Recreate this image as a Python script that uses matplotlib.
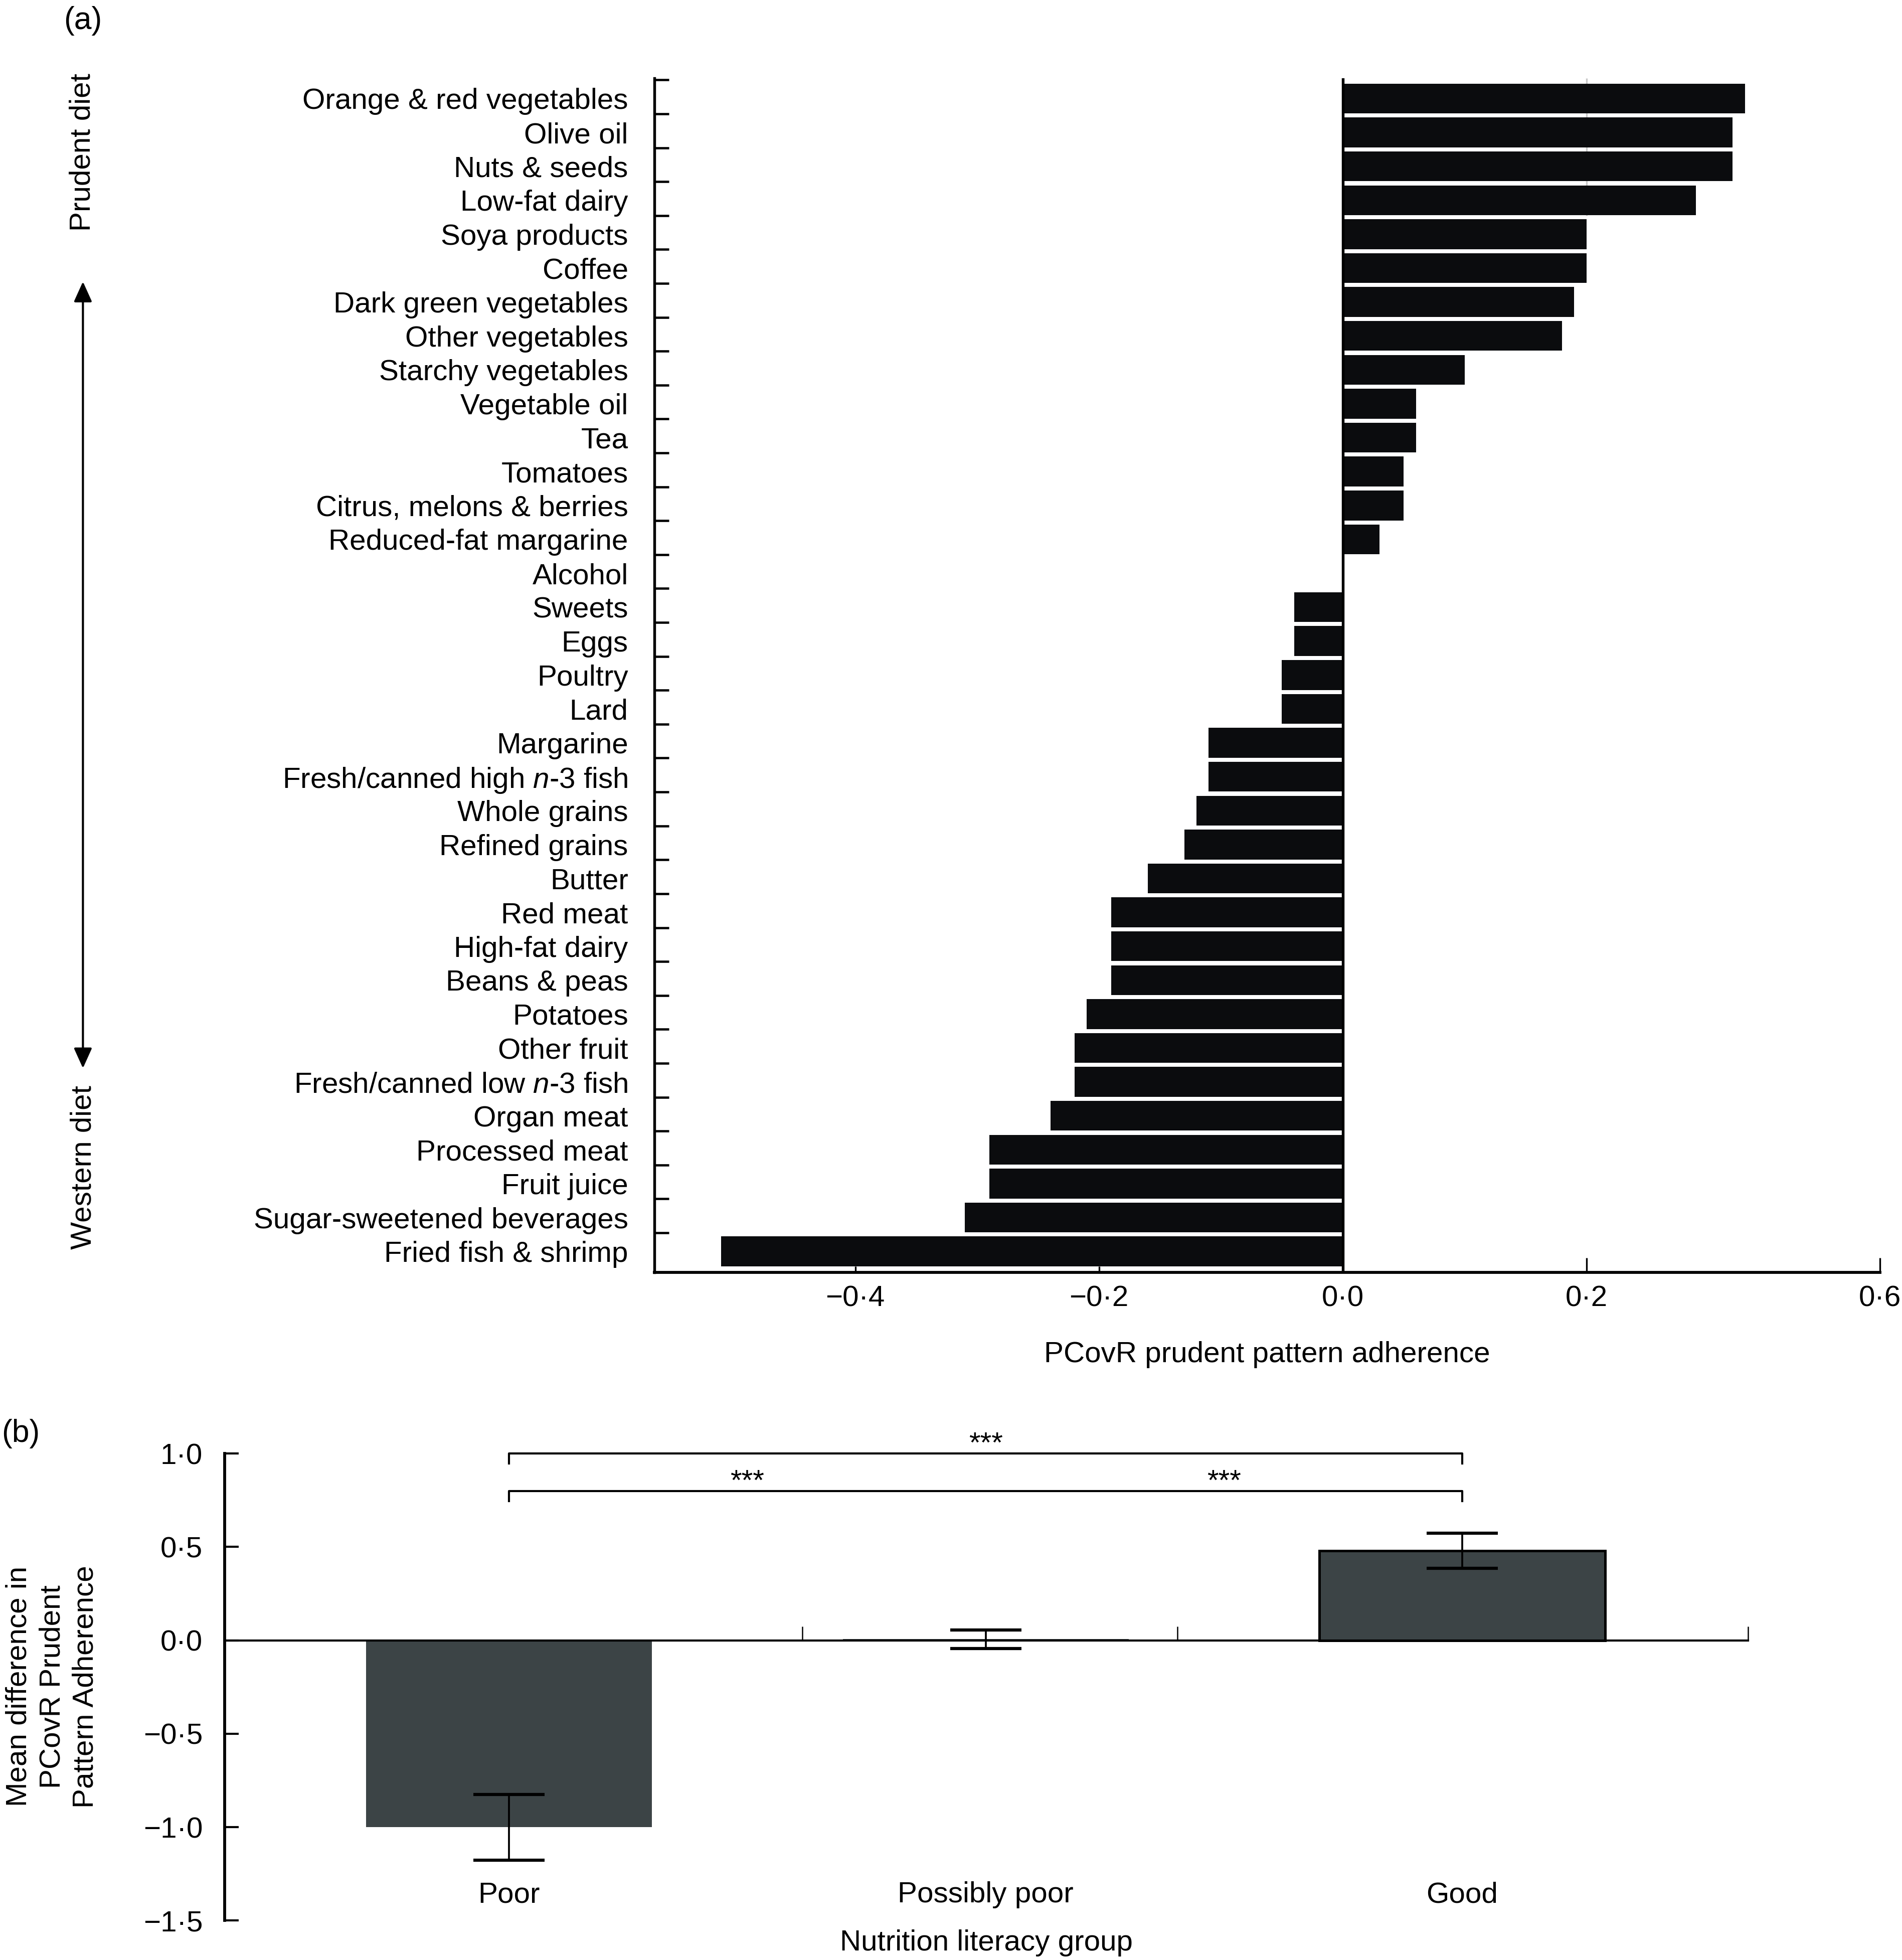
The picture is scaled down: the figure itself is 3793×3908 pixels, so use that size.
import matplotlib
matplotlib.use("Agg")
import numpy as np
import matplotlib.pyplot as plt
from matplotlib.patches import FancyArrowPatch

plt.rcParams['font.family'] = ['Liberation Sans', 'DejaVu Sans']
plt.rcParams['mathtext.fontset'] = 'custom'
plt.rcParams['mathtext.rm'] = 'Liberation Sans'
plt.rcParams['mathtext.it'] = 'Liberation Sans:italic'
plt.rcParams['font.size'] = 14

# panel (a): PCovR loadings per food group
foods = ['Orange & red vegetables', 'Olive oil', 'Nuts & seeds', 'Low-fat dairy',
         'Soya products', 'Coffee', 'Dark green vegetables', 'Other vegetables',
         'Starchy vegetables', 'Vegetable oil', 'Tea', 'Tomatoes',
         'Citrus, melons & berries', 'Reduced-fat margarine', 'Alcohol', 'Sweets',
         'Eggs', 'Poultry', 'Lard', 'Margarine',
         r'Fresh/canned high $\mathit{n}$-3 fish', 'Whole grains', 'Refined grains',
         'Butter', 'Red meat', 'High-fat dairy', 'Beans & peas', 'Potatoes',
         'Other fruit', r'Fresh/canned low $\mathit{n}$-3 fish', 'Organ meat',
         'Processed meat', 'Fruit juice', 'Sugar-sweetened beverages',
         'Fried fish & shrimp']
loadings = [0.33, 0.32, 0.32, 0.29, 0.20, 0.20, 0.19, 0.18, 0.10, 0.06, 0.06, 0.05,
            0.05, 0.03, 0.0, -0.04, -0.04, -0.05, -0.05, -0.11, -0.11, -0.12, -0.13,
            -0.16, -0.19, -0.19, -0.19, -0.21, -0.22, -0.22, -0.24, -0.29, -0.29,
            -0.31, -0.51]
xtick_vals = [-0.4, -0.2, 0.0, 0.2]
xtick_labels = ['\u22120\u00b74', '\u22120\u00b72', '0\u00b70', '0\u00b72', '0\u00b76']

# panel (b): mean difference by nutrition literacy group
groups = ['Poor', 'Possibly poor', 'Good']
means = [-1.0, 0.006, 0.48]
errs = [0.176, 0.05, 0.094]
ytick_vals_b = [1.0, 0.5, 0.0, -0.5, -1.0, -1.5]
ytick_labels_b = ['1\u00b70', '0\u00b75', '0\u00b70', '\u22120\u00b75', '\u22121\u00b70', '\u22121\u00b75']
sig_pairs = [(0, 2, 1.0), (0, 1, 0.8), (1, 2, 0.8)]  # (from, to, bracket level)

fig = plt.figure(figsize=(3793 / 300, 3908 / 300), dpi=300)

# ---------------- panel (a)
ax1 = fig.add_axes([0.3440, 0.3508, 0.9885 - 0.3440, 0.9601 - 0.3508])
y = np.arange(len(foods))
ax1.barh(y, loadings, height=0.88, color='#0b0c0e', zorder=2)
x_right = 0.441
ax1.set_xlim(-0.565, x_right)
ax1.set_ylim(len(foods) - 0.38, -0.6)
ax1.axvline(0, color='black', lw=1.3, zorder=3)
ax1.vlines(0.2, -0.6, 3.45, color='#c8c8c8', lw=0.8, zorder=1)

ax1.set_yticks(y, foods)
ax1.set_yticks(y - 0.55, minor=True)
ax1.tick_params(axis='y', which='major', length=0, pad=12.5, labelsize=14)
ax1.tick_params(axis='y', which='minor', direction='in', length=7, width=1.1)
ax1.set_xticks(xtick_vals + [x_right], xtick_labels)
ax1.tick_params(axis='x', direction='in', length=3, width=0.8, pad=6, labelsize=14)
for t in ax1.xaxis.get_major_ticks()[3:]:
    t.tick1line.set_markersize(7)
for s in ['top', 'right']:
    ax1.spines[s].set_visible(False)
ax1.spines['left'].set_linewidth(1.3)
ax1.spines['bottom'].set_linewidth(1.4)
ax1.set_xlabel('PCovR prudent pattern adherence', fontsize=14, labelpad=14)

fig.text(0.0435, 0.9895, '(a)', ha='center', va='center', fontsize=15)
fig.text(0.0435, 0.9223, 'Prudent diet', rotation=90, ha='center', va='center', fontsize=14)
fig.text(0.0439, 0.4045, 'Western diet', rotation=90, ha='center', va='center', fontsize=14)
arrow = FancyArrowPatch((0.0436, 0.4550), (0.0436, 0.8563), transform=fig.transFigure,
                        arrowstyle='<|-|>,head_length=0.82,head_width=0.37',
                        mutation_scale=10, lw=1.0, color='black',
                        shrinkA=0, shrinkB=0)
fig.add_artist(arrow)

# ---------------- panel (b)
ax2 = fig.add_axes([0.1181, 0.0201, 0.9191 - 0.1181, 0.2584 - 0.0201])
xb = np.arange(len(groups))
ax2.bar(xb, means, width=0.6, color='#3c4446', edgecolor='black',
        linewidth=[0, 0, 1.2], zorder=2)
ax2.errorbar(xb, means, yerr=errs, fmt='none', ecolor='black', elinewidth=0.9,
             capsize=17, capthick=1.5, zorder=3)
ax2.set_xlim(-0.597, 2.6)
ax2.set_ylim(-1.5, 1.0)
ax2.set_yticks(ytick_vals_b, ytick_labels_b)
ax2.tick_params(axis='y', direction='in', length=6.8, width=1.0, pad=10.5, labelsize=14)
ax2.set_xticks([0.615, 1.402, 2.6], [])
ax2.tick_params(axis='x', direction='in', length=6.8, width=0.6)
for s in ['top', 'right']:
    ax2.spines[s].set_visible(False)
ax2.spines['bottom'].set_position(('data', 0))
ax2.spines['bottom'].set_linewidth(1.0)
ax2.spines['bottom'].set_zorder(4)
ax2.spines['left'].set_linewidth(1.4)

for i, g in enumerate(groups):
    ax2.text(xb[i], -1.403, g, ha='center', va='baseline', fontsize=14)
fig.text(0.5185, 0.0049, 'Nutrition literacy group', ha='center', va='baseline', fontsize=14)
fig.text(0.0275, 0.1395, 'Mean difference in\nPCovR Prudent\nPattern Adherence',
         rotation=90, ha='center', va='center', multialignment='center',
         linespacing=1.3, fontsize=14)

# significance brackets
drop = 0.054
for level in sorted(set(p[2] for p in sig_pairs)):
    ax2.plot([xb[0], xb[0], xb[2], xb[2]], [level - drop, level, level, level - drop],
             color='black', lw=1.0, clip_on=False)
for a, b, level in sig_pairs:
    ax2.text((xb[a] + xb[b]) / 2, level + 0.006, '***', ha='center', va='baseline',
             fontsize=14, clip_on=False)

fig.text(0.011, 0.2685, '(b)', ha='center', va='center', fontsize=15)

fig.savefig('out.png', dpi=300)
